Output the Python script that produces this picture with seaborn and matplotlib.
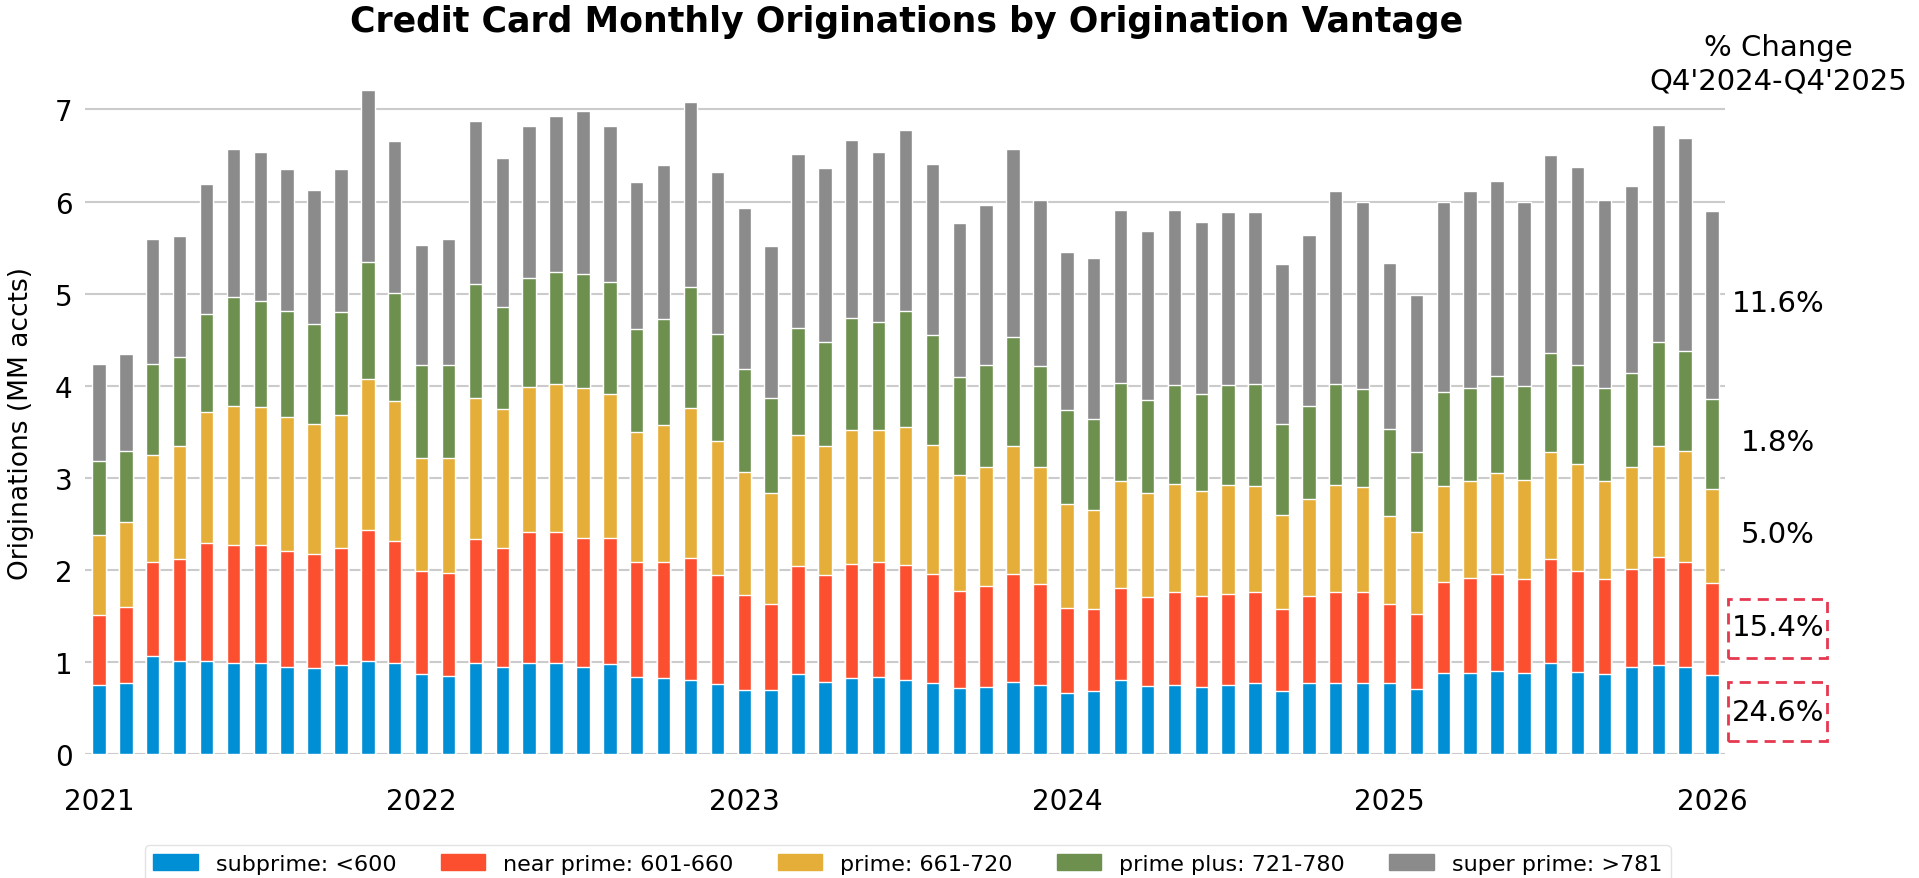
import numpy as np
import pandas as pd
import matplotlib
matplotlib.use("Agg")
import matplotlib.pyplot as plt
from matplotlib.patches import Rectangle, Patch
import seaborn as sns

# monthly originations (MM accts) by vantage band, Dec 2020 - Dec 2025
meses = pd.date_range("2020-12-31", periods=61, freq="ME").strftime("%Y-%m").tolist()

subprime = [0.75, 0.77, 1.06, 1.01, 1.01, 0.99, 0.99, 0.94, 0.93, 0.97, 1.01, 0.99,
            0.87, 0.85, 0.99, 0.94, 0.99, 0.99, 0.95, 0.98, 0.84, 0.82, 0.80, 0.76,
            0.69, 0.69, 0.87, 0.78, 0.82, 0.84, 0.80, 0.77, 0.72, 0.73, 0.78, 0.75,
            0.66, 0.68, 0.80, 0.74, 0.75, 0.73, 0.75, 0.77, 0.68, 0.77, 0.77, 0.77,
            0.77, 0.71, 0.88, 0.88, 0.90, 0.88, 0.99, 0.89, 0.87, 0.94, 0.97, 0.95,
            0.86]
near_prime = [0.76, 0.83, 1.03, 1.11, 1.28, 1.28, 1.28, 1.26, 1.24, 1.27, 1.42, 1.32,
              1.12, 1.12, 1.34, 1.30, 1.42, 1.42, 1.40, 1.37, 1.24, 1.27, 1.33, 1.18,
              1.04, 0.94, 1.17, 1.16, 1.24, 1.25, 1.25, 1.18, 1.05, 1.09, 1.17, 1.10,
              0.93, 0.89, 1.00, 0.96, 1.01, 0.99, 0.99, 0.99, 0.89, 0.95, 0.99, 0.99,
              0.86, 0.81, 0.99, 1.03, 1.05, 1.02, 1.13, 1.10, 1.03, 1.07, 1.17, 1.14,
              1.00]
prime = [0.87, 0.92, 1.16, 1.22, 1.42, 1.51, 1.50, 1.46, 1.41, 1.44, 1.64, 1.52,
         1.23, 1.25, 1.54, 1.51, 1.58, 1.61, 1.62, 1.56, 1.42, 1.48, 1.63, 1.46,
         1.33, 1.20, 1.42, 1.40, 1.46, 1.43, 1.50, 1.41, 1.26, 1.30, 1.40, 1.27,
         1.12, 1.08, 1.16, 1.13, 1.17, 1.14, 1.18, 1.15, 1.03, 1.05, 1.16, 1.14,
         0.95, 0.89, 1.04, 1.06, 1.10, 1.08, 1.16, 1.16, 1.06, 1.11, 1.21, 1.20,
         1.02]
prime_plus = [0.80, 0.77, 0.99, 0.97, 1.07, 1.18, 1.15, 1.15, 1.09, 1.12, 1.27, 1.18,
              1.00, 1.00, 1.24, 1.11, 1.18, 1.22, 1.24, 1.22, 1.12, 1.15, 1.31, 1.16,
              1.12, 1.04, 1.17, 1.14, 1.21, 1.17, 1.26, 1.19, 1.06, 1.10, 1.18, 1.09,
              1.03, 0.99, 1.07, 1.01, 1.08, 1.05, 1.09, 1.11, 0.98, 1.01, 1.10, 1.06,
              0.95, 0.87, 1.02, 1.00, 1.06, 1.02, 1.08, 1.08, 1.01, 1.02, 1.12, 1.09,
              0.98]
super_prime = [1.06, 1.05, 1.35, 1.32, 1.41, 1.61, 1.62, 1.54, 1.46, 1.55, 1.87, 1.65,
               1.31, 1.37, 1.77, 1.61, 1.65, 1.69, 1.77, 1.69, 1.59, 1.68, 2.01, 1.76,
               1.75, 1.65, 1.89, 1.88, 1.94, 1.85, 1.97, 1.86, 1.68, 1.74, 2.04, 1.81,
               1.71, 1.75, 1.88, 1.84, 1.90, 1.87, 1.88, 1.87, 1.74, 1.86, 2.09, 2.04,
               1.80, 1.71, 2.06, 2.14, 2.11, 2.00, 2.15, 2.14, 2.05, 2.03, 2.36, 2.31,
               2.04]

faixas = ["subprime: <600", "near prime: 601-660", "prime: 661-720",
          "prime plus: 721-780", "super prime: >781"]
cores = ["#008fd5", "#fc4f30", "#e5ae38", "#6d904f", "#8b8b8b"]

# % change Q4'24 -> Q4'25, bottom to top
variacao = ["24.6%", "15.4%", "5.0%", "1.8%", "11.6%"]
variacao_y = [0.46, 1.38, 2.39, 3.39, 4.90]

anos = ["2021", "2022", "2023", "2024", "2025", "2026"]

df = pd.DataFrame({"mes": meses, faixas[0]: subprime, faixas[1]: near_prime,
                   faixas[2]: prime, faixas[3]: prime_plus, faixas[4]: super_prime})
acumulado = df[faixas].cumsum(axis=1)

sns.set_style("white")
plt.rcParams["font.family"] = ["DejaVu Sans"]
plt.rcParams["text.color"] = "black"
plt.rcParams["axes.labelcolor"] = "black"
plt.rcParams["xtick.color"] = "black"
plt.rcParams["ytick.color"] = "black"

fig, ax = plt.subplots(figsize=(19.19, 8.79), dpi=100)
fig.subplots_adjust(left=0.0443, right=0.8989, bottom=0.1411, top=0.934)

# stacked bars: draw the cumulative totals from the top band down
for faixa, cor in reversed(list(zip(faixas, cores))):
    sns.barplot(x=df["mes"], y=acumulado[faixa], color=cor, saturation=1,
                width=0.5, ax=ax, zorder=2)

ax.set_ylim(0, 7.57)
ax.set_xlim(-0.52, 60.48)
ax.set_yticks(range(8))
ax.set_xticks([0, 12, 24, 36, 48, 60])
ax.set_xticklabels(anos)
ax.tick_params(axis="both", labelsize=20, length=0)
ax.tick_params(axis="x", pad=24)
ax.tick_params(axis="y", pad=9)
ax.yaxis.grid(True, color="#cbcbcb", linewidth=1.5, zorder=0)
ax.xaxis.grid(False)
ax.set_axisbelow(True)
for s in ax.spines.values():
    s.set_visible(False)

ax.set_xlabel("")
ax.set_ylabel("Originations (MM accts)", fontsize=19)
ax.yaxis.set_label_coords(-0.031, 0.475)

fig.text(0.4722, 1 - 22 / 879, "Credit Card Monthly Originations by Origination Vantage",
         ha="center", va="center", fontsize=25, fontweight="bold")

# right hand annotations
x_txt = 62.45
ax.text(x_txt, 7.50, "% Change\nQ4'2024-Q4'2025", ha="center", va="center",
        fontsize=21, clip_on=False, linespacing=1.25)
for txt, yv in zip(variacao, variacao_y):
    ax.text(x_txt, yv, txt, ha="center", va="center", fontsize=21, clip_on=False)

for y0, y1 in [(1.04, 1.68), (0.14, 0.78)]:
    ax.add_patch(Rectangle((60.58, y0), 3.69, y1 - y0, fill=False, edgecolor="#e63950",
                           linestyle=(0, (4, 2.5)), linewidth=2, clip_on=False))

handles = [Patch(facecolor=c, edgecolor=c) for c in cores]
fig.legend(handles, faixas, loc="upper center", bbox_to_anchor=(0.473, 1 - 835 / 879),
           ncol=5, fontsize=16, frameon=True, edgecolor="#dddddd", facecolor="white")

fig.savefig("out.png", dpi=100)
